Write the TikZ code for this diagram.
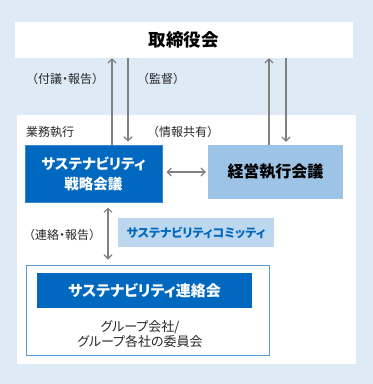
\documentclass[tikz,border=0pt]{standalone}
\usepackage{fontspec}
\setmainfont{Noto Sans CJK JP}
\newfontfamily\jpp{Noto Sans CJK JP}[RawFeature=+palt]
\usetikzlibrary{arrows.meta}
\definecolor{bgblue}{HTML}{DEEAF6}
\definecolor{darkblue}{HTML}{0068BF}
\definecolor{midblue}{HTML}{9DC3E6}
\definecolor{lightblue}{HTML}{BDD7EE}
\definecolor{framebl}{HTML}{5B9BD5}
\definecolor{arrgray}{HTML}{808080}
\definecolor{txt}{HTML}{262626}
\tikzset{
  box/.style={rectangle, inner sep=0pt, align=center},
  lbl/.style={inner sep=0pt, text=txt, font=\fontsize{12}{14}\selectfont},
  arr/.style={draw=arrgray, line width=1.2pt, -{Straight Barb[length=4pt,width=8pt]}},
  arrb/.style={draw=arrgray, line width=1.2pt, {Straight Barb[length=4pt,width=8pt]}-{Straight Barb[length=4pt,width=8pt]}},
  ln/.style={draw=arrgray, line width=1.2pt}
}
\begin{document}
\begin{tikzpicture}[x=1pt,y=-1pt]
\fill[bgblue] (0,0) rectangle (373,384);
\useasboundingbox (0,0) rectangle (373,384);
\fill[white] (17,115) rectangle (356,364);

\node[box, fill=white, minimum width=338pt, minimum height=36pt, font=\bfseries\fontsize{17.5}{20}\selectfont] (board) at (184,40) {取締役会};

\node[box, fill=darkblue, draw=framebl!60!darkblue, line width=1pt, minimum width=137pt, minimum height=57pt, text=white, font=\jpp\bfseries\fontsize{14.5}{20}\selectfont] (strat) at (93.5,173.5) {サステナビリティ\\戦略会議};

\node[box, fill=midblue, minimum width=135pt, minimum height=54pt, text=black, font=\jpp\bfseries\fontsize{16}{20}\selectfont] (kei) at (275.5,172) {経営執行会議};

\node[box, fill=lightblue, minimum width=156pt, minimum height=29pt, text=darkblue, font=\jpp\bfseries\fontsize{12}{14}\selectfont] (comm) at (196,232.5) {サステナビリティコミッティ};

\node[box, fill=white, draw=framebl, line width=0.9pt, minimum width=243pt, minimum height=90pt] (frame) at (147.5,310) {};

\node[box, fill=darkblue, minimum width=215pt, minimum height=35pt, text=white, font=\jpp\bfseries\fontsize{15}{18}\selectfont] (renraku) at (144.5,290.5) {サステナビリティ連絡会};

\node[box, text=txt, font=\jpp\fontsize{13}{14.5}\selectfont] (group) at (140,334) {グループ会社/\\グループ各社の委員会};

\node[lbl, anchor=west] (l1) at (26,79) {（付議{\jpp ・}報告）};
\node[lbl, anchor=west] (l2) at (137,79) {（監督）};
\node[lbl, anchor=west] (l3) at (26,132) {業務執行};
\node[lbl, anchor=west] (l4) at (147,132) {（情報共有）};
\node[lbl, anchor=west] (l5) at (23,235) {（連絡{\jpp ・}報告）};

\coordinate (xa) at (112,0);
\coordinate (xb) at (128,0);
\coordinate (xc) at (269,0);
\coordinate (xd) at (286,0);
\coordinate (xe) at (108,0);

\draw[arr] (strat.north -| xa) -- (board.south -| xa);
\draw[arr] (board.south -| xb) -- ([yshift=3pt]strat.north -| xb);
\draw[arr] (kei.north -| xc) -- (board.south -| xc);
\draw[arr] (board.south -| xd) -- ([yshift=3pt]kei.north -| xd);
\draw[arrb] ([xshift=4pt]strat.east |- kei.west) -- ([xshift=-2pt]kei.west);
\draw[arrb] ([yshift=-5pt]strat.south -| xe) -- ([yshift=5pt]frame.north -| xe);
\end{tikzpicture}
\end{document}
